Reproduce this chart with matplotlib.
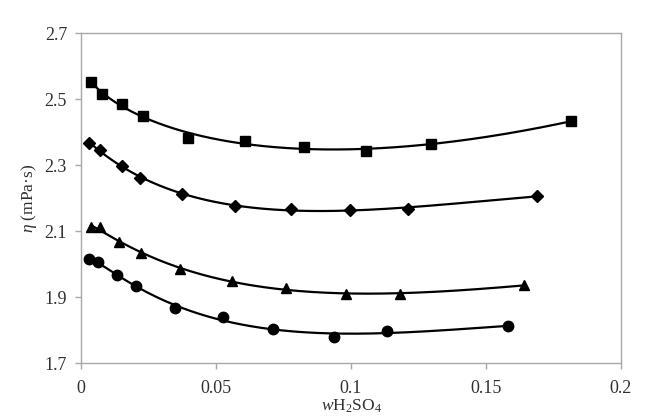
import numpy as np
import matplotlib
matplotlib.use("Agg")
import matplotlib.pyplot as plt

plt.rcParams['font.family'] = ['Liberation Serif', 'DejaVu Serif']
plt.rcParams['mathtext.fontset'] = 'custom'
plt.rcParams['mathtext.rm'] = 'Liberation Serif'
plt.rcParams['mathtext.it'] = 'Liberation Serif:italic'

# Data
x_sq = [0.0037, 0.0078, 0.0152, 0.023, 0.0396, 0.0607, 0.0826, 0.1056, 0.1296, 0.1815]
y_sq = [2.553, 2.515, 2.485, 2.449, 2.382, 2.373, 2.355, 2.342, 2.364, 2.433]

x_di = [0.003, 0.007, 0.0152, 0.022, 0.0374, 0.057, 0.0778, 0.0996, 0.121, 0.169]
y_di = [2.367, 2.345, 2.297, 2.261, 2.212, 2.176, 2.167, 2.164, 2.167, 2.206]

x_tr = [0.0037, 0.007, 0.0141, 0.0222, 0.0367, 0.056, 0.076, 0.098, 0.118, 0.164]
y_tr = [2.112, 2.112, 2.067, 2.033, 1.985, 1.948, 1.927, 1.909, 1.909, 1.936]

x_ci = [0.003, 0.0063, 0.0133, 0.0204, 0.0348, 0.0526, 0.071, 0.0937, 0.1133, 0.158]
y_ci = [2.015, 2.006, 1.967, 1.933, 1.867, 1.839, 1.803, 1.779, 1.797, 1.812]

series = [(x_sq, y_sq, 's', 7), (x_di, y_di, 'D', 6.5),
          (x_tr, y_tr, '^', 7.5), (x_ci, y_ci, 'o', 7.5)]

fig = plt.figure(figsize=(6.57, 4.17), dpi=100)
ax = fig.add_axes([81/657, 1-363/417, 540/657, 330/417])
ax.set_xlim(0, 0.2)
ax.set_ylim(1.7, 2.7)


def fit_line(xs, ys):
    # smooth trend curve: quartic polynomial in sqrt(x)
    xs = np.array(xs); ys = np.array(ys)
    u = np.sqrt(xs)
    coef = np.polyfit(u, ys, 4)
    xf = np.linspace(xs.min(), xs.max(), 300)
    return xf, np.polyval(coef, np.sqrt(xf))


for xs, ys, m, ms in series:
    xf, yf = fit_line(xs, ys)
    ax.plot(xf, yf, color='black', lw=1.6, zorder=2)
    ax.plot(xs, ys, linestyle='none', marker=m, markersize=ms, color='black', zorder=3)

ax.set_xticks([0, 0.05, 0.1, 0.15, 0.2])
ax.set_xticklabels(['0', '0.05', '0.1', '0.15', '0.2'])
ax.set_yticks([1.7, 1.9, 2.1, 2.3, 2.5, 2.7])
ax.set_yticklabels(['1.7', '1.9', '2.1', '2.3', '2.5', '2.7'])
for s in ax.spines.values():
    s.set_color('#a8a8a8')
    s.set_linewidth(1.0)
ax.tick_params(axis='both', colors='#a8a8a8', labelcolor='#303030', labelsize=13, length=4, width=1.0, direction='out')
ax.tick_params(axis='x', pad=8)
ax.tick_params(axis='y', pad=6)
ax.set_ylabel(r'$\it{\eta}$ (mPa·s)', fontsize=12.5, color='#303030', labelpad=4)
ax.set_xlabel(r'$\it{w}$H$_2$SO$_4$', fontsize=12.5, color='#303030', labelpad=1)

fig.savefig('out.png', dpi=100)
